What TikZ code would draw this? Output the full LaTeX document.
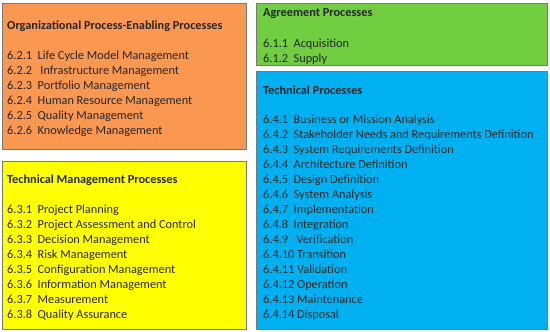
\documentclass[tikz,border=0pt]{standalone}
\usepackage{fontspec}
\setmainfont{Carlito}
\definecolor{borange}{RGB}{250,152,82}
\definecolor{bgreen}{RGB}{112,206,64}
\definecolor{byellow}{RGB}{255,255,0}
\definecolor{bblue}{RGB}{0,176,240}
\definecolor{bedge}{RGB}{120,120,120}
\begin{document}
\begin{tikzpicture}[x=1pt,y=-1pt,
  panel/.style={draw=bedge,line width=0.9pt},
  txt/.style={anchor=north west,inner sep=0pt,align=left,
    font=\fontsize{12.3}{15}\selectfont,text=black!85}]
\useasboundingbox (0,0) rectangle (550,332);
\fill[white] (0,0) rectangle (550,332);
\draw[panel,fill=borange] (2,3) rectangle (246,149);
\draw[panel,fill=bgreen] (256,3) rectangle (547,65);
\draw[panel,fill=byellow] (2,161) rectangle (246,329);
\draw[panel,fill=bblue] (256,71) rectangle (547,329);
\node[txt] (orgt) at (7,20.5) {\textbf{Organizational Process-Enabling Processes}};
\node[txt] (orgl) at (7,50.5) {6.2.1\ \ Life Cycle Model Management\\
6.2.2\ \ \ Infrastructure Management\\
6.2.3\ \ Portfolio Management\\
6.2.4\ \ Human Resource Management\\
6.2.5\ \ Quality Management\\
6.2.6\ \ Knowledge Management};
\node[txt] (agt) at (263,8.5) {\textbf{Agreement Processes}};
\node[txt] (agl) at (263,38.5) {6.1.1\ \ Acquisition\\
6.1.2\ \ Supply};
\node[txt] (tmt) at (7,174.5) {\textbf{Technical Management Processes}};
\node[txt] (tml) at (7,204.5) {6.3.1\ \ Project Planning\\
6.3.2\ \ Project Assessment and Control\\
6.3.3\ \ Decision Management\\
6.3.4\ \ Risk Management\\
6.3.5\ \ Configuration Management\\
6.3.6\ \ Information Management\\
6.3.7\ \ Measurement\\
6.3.8\ \ Quality Assurance};
\node[txt] (tpt) at (263,85.5) {\textbf{Technical Processes}};
\node[txt] (tpl) at (263,114.5) {6.4.1\ \ Business or Mission Analysis\\
6.4.2\ \ Stakeholder Needs and Requirements Definition\\
6.4.3\ \ System Requirements Definition\\
6.4.4\ \ Architecture Definition\\
6.4.5\ \ Design Definition\\
6.4.6\ \ System Analysis\\
6.4.7\ \ Implementation\\
6.4.8\ \ Integration\\
6.4.9\ \ \ Verification\\
6.4.10 Transition\\
6.4.11 Validation\\
6.4.12 Operation\\
6.4.13 Maintenance\\
6.4.14 Disposal};
\end{tikzpicture}
\end{document}
